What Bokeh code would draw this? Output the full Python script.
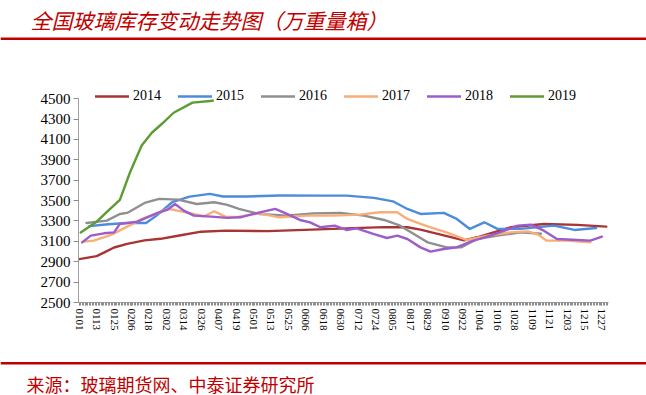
import datetime
from bokeh.plotting import figure
from bokeh.models import Range1d, FixedTicker, Legend, LegendItem, Span
from bokeh.layouts import column
from bokeh.embed import file_html
from bokeh.resources import INLINE
from bokeh.core.properties import value

# ---------------- data ----------------
title_text = "全国玻璃库存变动走势图（万重量箱）"
source_text = "来源：玻璃期货网、中泰证券研究所"

# category axis: every day of the year (MMDD)
days = [(datetime.date(2019, 1, 1) + datetime.timedelta(i)).strftime("%m%d") for i in range(365)]
tick_labels = days[::12]

series_names = ["2014", "2015", "2016", "2017", "2018", "2019"]
series_colors = ["#A83434", "#4D8BDB", "#8F8F8F", "#F8AE78", "#9C5CCB", "#5D9B34"]

dates_2014 = ["0101", "0113", "0118", "0125", "0203", "0215", "0226", "0310", "0326", "0412",
              "0511", "0610", "0709", "0730", "0815", "0824", "0831", "0923", "1002", "1025",
              "1117", "1210", "1230"]
vals_2014 = [2925, 2955, 2990, 3040, 3075, 3110, 3125, 3155, 3195, 3205,
             3200, 3215, 3230, 3240, 3238, 3215, 3190, 3110, 3140, 3238,
             3270, 3262, 3245]

dates_2015 = ["0108", "0121", "0203", "0216", "0223", "0306", "0318", "0401", "0410", "0426",
              "0519", "0616", "0704", "0723", "0805", "0815", "0824", "0909", "0918", "0927",
              "1007", "1016", "1101", "1124", "1208", "1223"]
vals_2015 = [3250, 3268, 3280, 3280, 3350, 3484, 3539, 3566, 3540, 3540,
             3550, 3549, 3549, 3527, 3493, 3418, 3369, 3379, 3320, 3222,
             3287, 3222, 3222, 3254, 3212, 3231]

dates_2016 = ["0106", "0120", "0129", "0203", "0215", "0225", "0310", "0323", "0404", "0413",
              "0421", "0505", "0524", "0611", "0630", "0716", "0730", "0810", "0824", "0829",
              "0911", "0921", "1002", "1016", "1101", "1115"]
vals_2016 = [3280, 3303, 3369, 3379, 3477, 3517, 3510, 3467, 3484, 3458,
             3418, 3369, 3353, 3375, 3379, 3353, 3310, 3254, 3133, 3090,
             3041, 3041, 3123, 3156, 3188, 3175]

dates_2017 = ["0104", "0111", "0123", "0203", "0215", "0223", "0303", "0314", "0328", "0404",
              "0412", "0421", "0505", "0519", "0607", "0625", "0713", "0727", "0808", "0815",
              "0824", "0831", "0911", "0925", "1009", "1025", "1106", "1113", "1119", "1203",
              "1219"]
vals_2017 = [3097, 3107, 3163, 3244, 3330, 3369, 3420, 3390, 3346, 3395,
             3340, 3343, 3375, 3336, 3353, 3353, 3362, 3385, 3385, 3320,
             3271, 3238, 3188, 3113, 3156, 3188, 3198, 3166, 3107, 3107,
             3090]

dates_2018 = ["0103", "0109", "0118", "0125", "0129", "0210", "0224", "0303", "0308", "0314",
              "0321", "0402", "0413", "0422", "0501", "0516", "0524", "0602", "0609", "0616",
              "0626", "0704", "0711", "0723", "0801", "0808", "0815", "0824", "0831", "0909",
              "0918", "0928", "1011", "1021", "1030", "1108", "1117", "1126", "1210", "1219",
              "1227"]
vals_2018 = [3090, 3156, 3179, 3188, 3271, 3293, 3379, 3412, 3467, 3402,
             3353, 3343, 3330, 3336, 3369, 3418, 3369, 3310, 3287, 3238,
             3254, 3212, 3228, 3172, 3133, 3156, 3123, 3041, 2999, 3025,
             3041, 3100, 3156, 3205, 3254, 3264, 3205, 3123, 3113, 3107,
             3146]

dates_2019 = ["0102", "0113", "0121", "0129", "0205", "0213", "0220", "0227", "0307", "0320",
              "0403"]
vals_2019 = [3188, 3293, 3402, 3507, 3778, 4041, 4166, 4254, 4362, 4461,
             4480]

series_dates = [dates_2014, dates_2015, dates_2016, dates_2017, dates_2018, dates_2019]
series_vals = [vals_2014, vals_2015, vals_2016, vals_2017, vals_2018, vals_2019]

y_ticks = list(range(2500, 4501, 200))

# ---------------- layout ----------------
RED = "#C00000"
CJK = "Noto Sans CJK SC"
SERIF = "Liberation Serif"
W = 646
H_TOP, H_MAIN, H_BOT = 42, 318, 35

# title strip
pt = figure(width=W, height=H_TOP, x_range=Range1d(0, W), y_range=Range1d(0, H_TOP),
            x_axis_type=None, y_axis_type=None, output_backend="svg",
            toolbar_location=None, min_border=0, frame_align=False)
pt.outline_line_color = None
pt.grid.visible = False
pt.text(x=[30], y=[23], text=[title_text], text_font=value(CJK), text_font_size="21px",
        text_font_style="italic", text_color=RED, text_baseline="middle", text_align="left")
pt.add_layout(Span(location=3.7, dimension="width", line_color=RED, line_width=2.5))

# main chart
idx = {d: i for i, d in enumerate(days)}
p = figure(width=W, height=H_MAIN, x_range=Range1d(-0.5, 364.5), y_range=Range1d(2500, 4600),
           output_backend="svg", toolbar_location=None, frame_align=False,
           min_border_left=78, min_border_right=38, min_border_top=46, min_border_bottom=58)
p.outline_line_color = None
p.grid.visible = False

items = []
for name, color, dts, vals in zip(series_names, series_colors, series_dates, series_vals):
    xs = [idx[d] for d in dts]
    r = p.line(xs, vals, line_color=color, line_width=2.4, line_join="round", line_cap="round")
    items.append(LegendItem(label=name, renderers=[r]))

xa = p.xaxis[0]
xa.ticker = FixedTicker(ticks=list(range(0, 361, 12)), minor_ticks=list(range(0, 365)))
xa.major_label_overrides = {i * 12: lab for i, lab in enumerate(tick_labels)}
xa.major_label_orientation = "vertical"
xa.major_label_text_font = SERIF
xa.major_label_text_font_size = "11px"
xa.major_label_text_color = "#000000"
xa.major_label_standoff = 3
xa.axis_line_color = "#A0A0A0"
xa.major_tick_line_color = "#8C8C8C"
xa.minor_tick_line_color = "#8C8C8C"
xa.major_tick_in = 0
xa.major_tick_out = 3
xa.minor_tick_in = 0
xa.minor_tick_out = 3

ya = p.yaxis[0]
ya.ticker = FixedTicker(ticks=y_ticks)
ya.bounds = (2500, 4500)
ya.major_label_text_font = SERIF
ya.major_label_text_font_size = "15px"
ya.major_label_text_color = "#000000"
ya.major_label_standoff = 3
ya.axis_line_color = "#A0A0A0"
ya.major_tick_line_color = "#8C8C8C"
ya.major_tick_in = 0
ya.major_tick_out = 5
ya.minor_tick_line_color = None

legend = Legend(items=items, orientation="horizontal", location=(17, 198),
                glyph_width=34, glyph_height=14, label_height=14, label_standoff=4,
                spacing=17, padding=0, margin=0, border_line_color=None,
                background_fill_alpha=0, label_text_font=SERIF, label_text_font_size="14px",
                label_text_color="#000000")
p.add_layout(legend)

# source strip
pb = figure(width=W, height=H_BOT, x_range=Range1d(0, W), y_range=Range1d(0, H_BOT),
            x_axis_type=None, y_axis_type=None, output_backend="svg",
            toolbar_location=None, min_border=0, frame_align=False)
pb.outline_line_color = None
pb.grid.visible = False
pb.add_layout(Span(location=32.3, dimension="width", line_color=RED, line_width=2.5))
pb.text(x=[26], y=[12], text=[source_text], text_font=value(CJK), text_font_size="18px",
        text_color=RED, text_baseline="middle", text_align="left")

layout = column(pt, p, pb, spacing=0)
open("out.html", "w").write(file_html(layout, INLINE))
